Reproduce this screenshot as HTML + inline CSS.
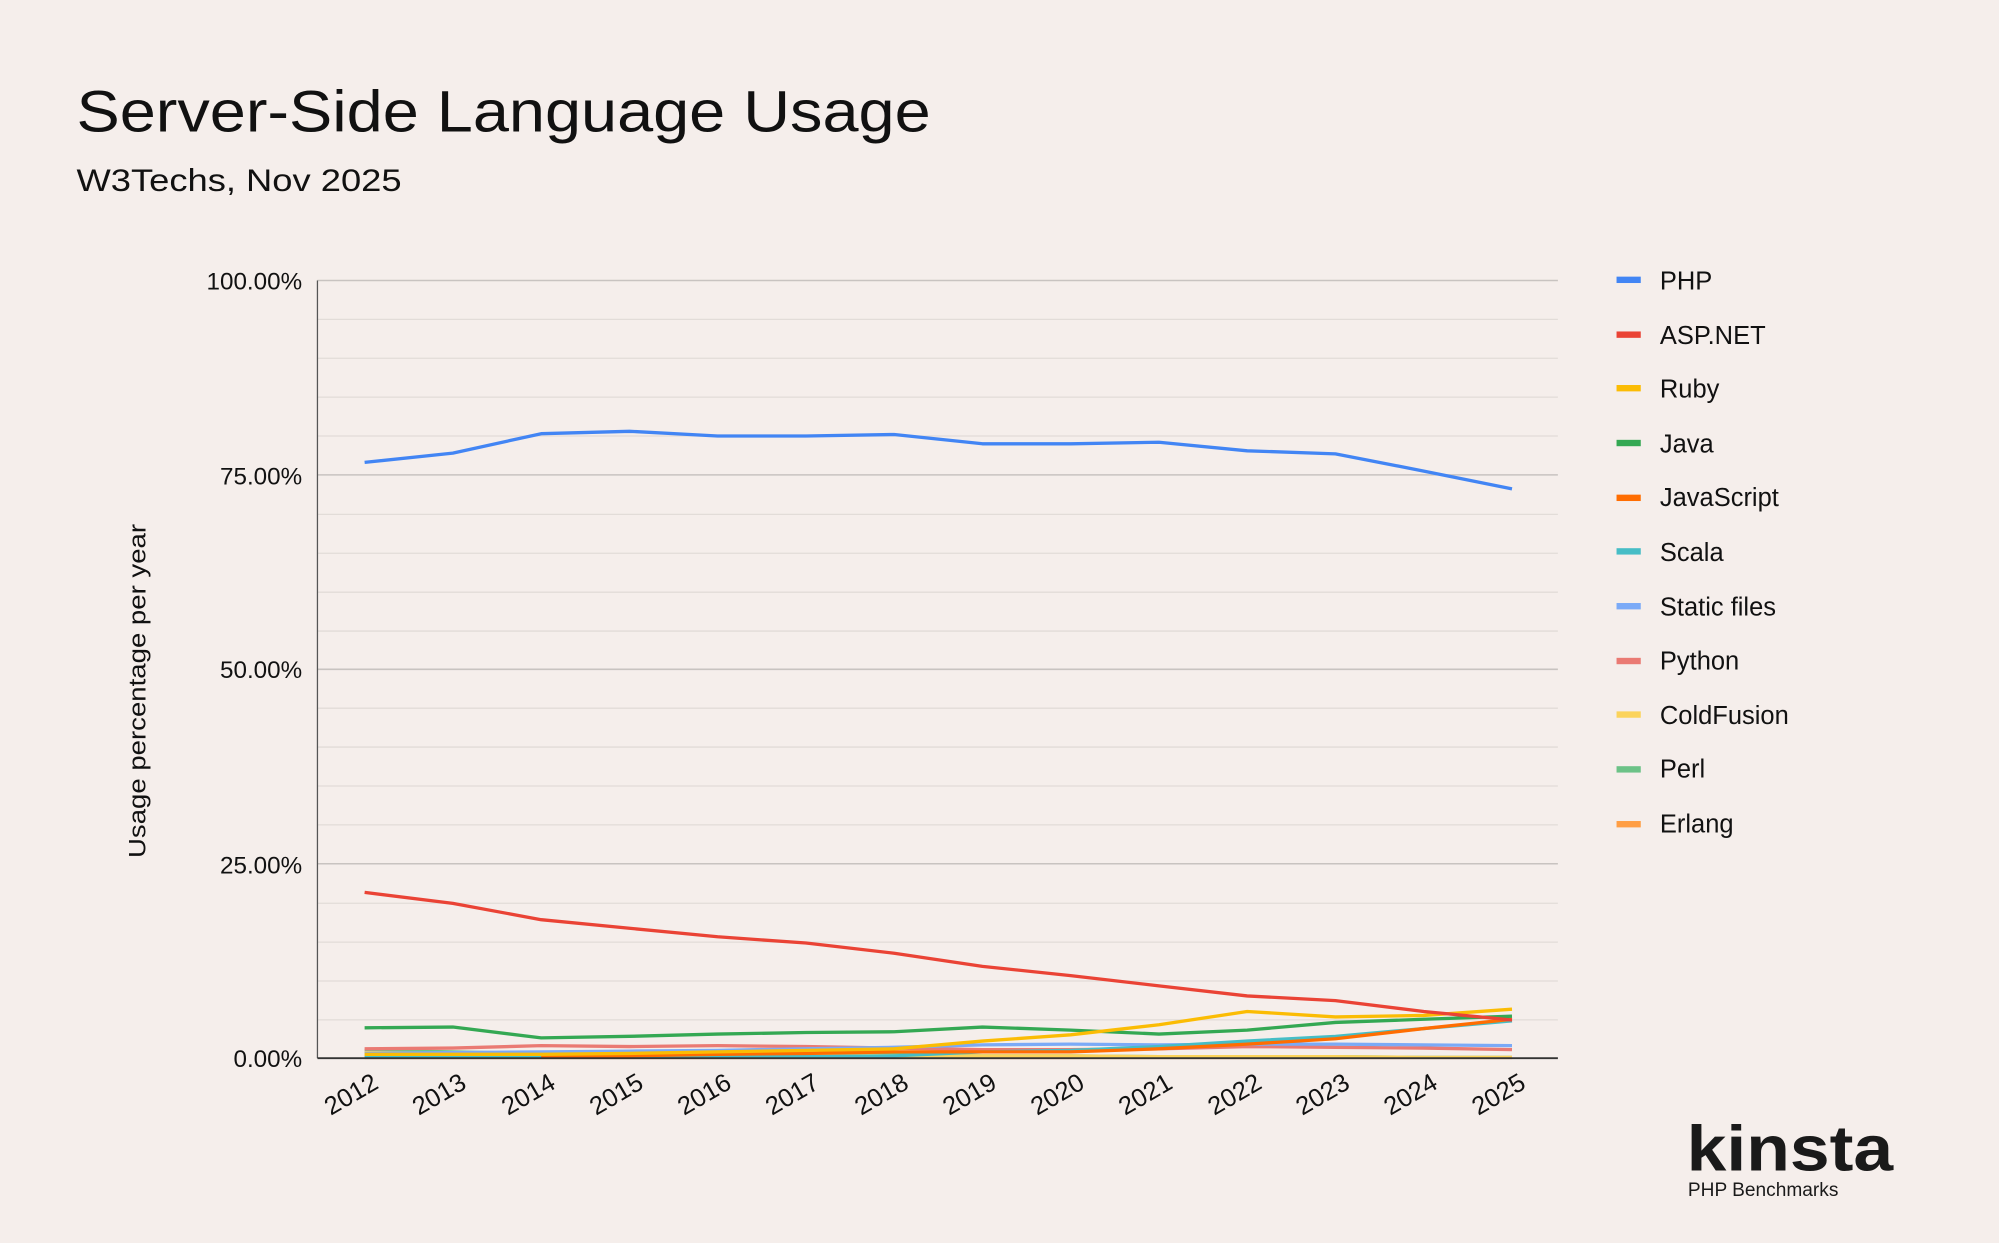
<!DOCTYPE html>
<html><head><meta charset="utf-8"><style>
html,body{margin:0;padding:0;background:#f5eeeb;}
svg{display:block;font-family:"Liberation Sans",sans-serif;}
</style></head><body>
<svg width="1999" height="1243" viewBox="0 0 1568 975" preserveAspectRatio="none" xmlns="http://www.w3.org/2000/svg">
<rect width="1568" height="975" fill="#f5eeeb"/>
<text x="60" y="103" font-size="46" fill="#111" textLength="670" lengthAdjust="spacingAndGlyphs">Server-Side Language Usage</text>
<text x="60" y="150" font-size="25" fill="#111" textLength="255" lengthAdjust="spacingAndGlyphs">W3Techs, Nov 2025</text>
<g stroke="#e2dcd8" stroke-width="1">
<line x1="249" x2="1222" y1="250.5" y2="250.5"/><line x1="249" x2="1222" y1="281" y2="281"/><line x1="249" x2="1222" y1="311.5" y2="311.5"/><line x1="249" x2="1222" y1="342" y2="342"/>
<line x1="249" x2="1222" y1="403.5" y2="403.5"/><line x1="249" x2="1222" y1="434" y2="434"/><line x1="249" x2="1222" y1="464.5" y2="464.5"/><line x1="249" x2="1222" y1="495" y2="495"/>
<line x1="249" x2="1222" y1="555.5" y2="555.5"/><line x1="249" x2="1222" y1="586" y2="586"/><line x1="249" x2="1222" y1="616.5" y2="616.5"/><line x1="249" x2="1222" y1="647" y2="647"/>
<line x1="249" x2="1222" y1="708.5" y2="708.5"/><line x1="249" x2="1222" y1="739" y2="739"/><line x1="249" x2="1222" y1="769.5" y2="769.5"/><line x1="249" x2="1222" y1="800" y2="800"/>
</g>
<g stroke="#c8c3c0" stroke-width="1.2">
<line x1="249" x2="1222" y1="220" y2="220"/><line x1="249" x2="1222" y1="372.5" y2="372.5"/><line x1="249" x2="1222" y1="525" y2="525"/><line x1="249" x2="1222" y1="677.5" y2="677.5"/>
</g>
<line x1="249" x2="249" y1="220" y2="830" stroke="#555" stroke-width="1"/>
<g font-size="19" fill="#111" text-anchor="end">
<text x="237" y="227">100.00%</text><text x="237" y="380">75.00%</text><text x="237" y="532">50.00%</text><text x="237" y="685">25.00%</text><text x="237" y="837">0.00%</text>
</g>
<text transform="translate(114,542) rotate(-90)" font-size="19" fill="#111" text-anchor="middle" textLength="262" lengthAdjust="spacingAndGlyphs">Usage percentage per year</text>
<g fill="none" stroke-width="2.6" stroke-linejoin="round">
<polyline stroke="#4285f4" points="286,362.7 355.2,355.4 424.5,340.2 493.7,338.3 562.9,342 632.2,342 701.4,340.8 770.6,348.1 839.8,348.1 909.1,346.9 978.3,353.6 1047.5,356 1116.8,369.5 1186,383.5"/>
<polyline stroke="#ff9e44" points="286,829.5 1186,829.5"/>
<polyline stroke="#6cc287" points="286,823.9 355.2,825.1 424.5,826.3 493.7,827 562.9,827 632.2,827.6 701.4,827.6 770.6,828.2 839.8,828.2 909.1,828.8 978.3,828.8 1047.5,828.8 1116.8,829.4 1186,829.4"/>
<polyline stroke="#fbd35b" points="286,825.7 355.2,826.3 424.5,827 493.7,827 562.9,827.6 632.2,827.6 701.4,828.2 770.6,828.2 839.8,828.2 909.1,828.8 978.3,828.8 1047.5,828.8 1116.8,829.4 1186,829.4"/>
<polyline stroke="#ea7a73" points="286,822.7 355.2,822.1 424.5,820.2 493.7,820.9 562.9,820.2 632.2,820.9 701.4,822.1 770.6,823.3 839.8,823.3 909.1,822.7 978.3,820.9 1047.5,821.5 1116.8,822.1 1186,823.3"/>
<polyline stroke="#7baaf7" points="286,826.3 355.2,825.7 424.5,825.1 493.7,824.5 562.9,823.9 632.2,822.7 701.4,821.5 770.6,819.6 839.8,819 909.1,819.6 978.3,819 1047.5,819 1116.8,819.6 1186,820.2"/>
<polyline stroke="#46bdc6" points="286,828.8 355.2,828.8 424.5,828.8 493.7,828.8 562.9,828.8 632.2,828.8 701.4,828.2 770.6,825.1 839.8,823.9 909.1,820.9 978.3,816.6 1047.5,812.9 1116.8,806.8 1186,800.7"/>
<polyline stroke="#ff6d01" points="424.5,829.4 493.7,828.2 562.9,827 632.2,826.3 701.4,825.1 770.6,825.1 839.8,825.1 909.1,822.7 978.3,819 1047.5,814.8 1116.8,806.8 1186,799.5"/>
<polyline stroke="#34a853" points="286,806.2 355.2,805.6 424.5,814.1 493.7,812.9 562.9,811.1 632.2,809.9 701.4,809.3 770.6,805.6 839.8,808 909.1,811.1 978.3,808 1047.5,802 1116.8,799.5 1186,797.1"/>
<polyline stroke="#fbbc04" points="286,827 355.2,827 424.5,827 493.7,826.3 562.9,825.1 632.2,823.9 701.4,822.7 770.6,816.6 839.8,811.7 909.1,803.8 978.3,793.4 1047.5,797.7 1116.8,796.5 1186,791.6"/>
<polyline stroke="#ea4335" points="286,700 355.2,708.6 424.5,721.4 493.7,728.1 562.9,734.8 632.2,739.7 701.4,747.7 770.6,758 839.8,765.3 909.1,773.3 978.3,781.2 1047.5,784.9 1116.8,793.4 1186,800.1"/>
</g>
<line x1="249" x2="249" y1="830" y2="830"/>
<line x1="249" x2="1222" y1="830" y2="830" stroke="#333" stroke-width="1.5"/>
<g font-size="20" fill="#111" text-anchor="end">
<text transform="translate(298,853) rotate(-30)">2012</text>
<text transform="translate(367,853) rotate(-30)">2013</text>
<text transform="translate(437,853) rotate(-30)">2014</text>
<text transform="translate(506,853) rotate(-30)">2015</text>
<text transform="translate(575,853) rotate(-30)">2016</text>
<text transform="translate(644,853) rotate(-30)">2017</text>
<text transform="translate(714,853) rotate(-30)">2018</text>
<text transform="translate(783,853) rotate(-30)">2019</text>
<text transform="translate(852,853) rotate(-30)">2020</text>
<text transform="translate(921,853) rotate(-30)">2021</text>
<text transform="translate(991,853) rotate(-30)">2022</text>
<text transform="translate(1060,853) rotate(-30)">2023</text>
<text transform="translate(1129,853) rotate(-30)">2024</text>
<text transform="translate(1198,853) rotate(-30)">2025</text>
</g>
<g font-size="20" fill="#111">
<rect x="1268" y="217" width="19" height="5" fill="#4285f4"/><text x="1302" y="227">PHP</text>
<rect x="1268" y="260" width="19" height="5" fill="#ea4335"/><text x="1302" y="270">ASP.NET</text>
<rect x="1268" y="302" width="19" height="5" fill="#fbbc04"/><text x="1302" y="312">Ruby</text>
<rect x="1268" y="345" width="19" height="5" fill="#34a853"/><text x="1302" y="355">Java</text>
<rect x="1268" y="388" width="19" height="5" fill="#ff6d01"/><text x="1302" y="397">JavaScript</text>
<rect x="1268" y="430" width="19" height="5" fill="#46bdc6"/><text x="1302" y="440">Scala</text>
<rect x="1268" y="473" width="19" height="5" fill="#7baaf7"/><text x="1302" y="483">Static files</text>
<rect x="1268" y="516" width="19" height="5" fill="#ea7a73"/><text x="1302" y="525">Python</text>
<rect x="1268" y="558" width="19" height="5" fill="#fbd35b"/><text x="1302" y="568">ColdFusion</text>
<rect x="1268" y="601" width="19" height="5" fill="#6cc287"/><text x="1302" y="610">Perl</text>
<rect x="1268" y="644" width="19" height="5" fill="#ff9e44"/><text x="1302" y="653">Erlang</text>
</g>
<text x="1323" y="918" font-size="50" font-weight="bold" fill="#1a1a1a" textLength="162" lengthAdjust="spacingAndGlyphs">kinsta</text>
<text x="1324" y="938" font-size="15" fill="#1a1a1a">PHP Benchmarks</text>
</svg>
</body></html>
